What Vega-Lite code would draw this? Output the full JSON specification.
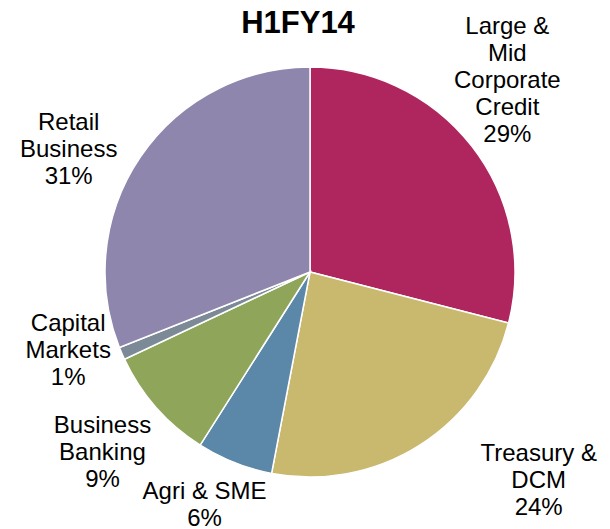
{
  "$schema": "https://vega.github.io/schema/vega-lite/v6.json",
  "autosize": {"type": "none"},
  "width": 600,
  "height": 510,
  "padding": {"left": 10, "top": 17, "right": 0, "bottom": 2},
  "background": "white",
  "title": {
    "text": "H1FY14",
    "font": "Liberation Sans",
    "fontSize": 31,
    "fontWeight": "bold",
    "color": "#000000",
    "anchor": "middle",
    "frame": "group",
    "baseline": "alphabetic",
    "offset": -21,
    "dx": -12,
    "dy": 28
  },
  "config": {"view": {"stroke": null}},
  "data": {
    "values": [
      {"rank": 1, "segment": "Large & Mid Corporate Credit", "name": "Large &\nMid\nCorporate\nCredit", "share": 29},
      {"rank": 2, "segment": "Treasury & DCM", "name": "Treasury &\nDCM", "share": 24},
      {"rank": 3, "segment": "Agri & SME", "name": "Agri & SME", "share": 6},
      {"rank": 4, "segment": "Business Banking", "name": "Business\nBanking", "share": 9},
      {"rank": 5, "segment": "Capital Markets", "name": "Capital\nMarkets", "share": 1},
      {"rank": 6, "segment": "Retail Business", "name": "Retail\nBusiness", "share": 31}
    ]
  },
  "transform": [{"calculate": "datum.name + '\\n' + datum.share + '%'", "as": "label"}],
  "encoding": {
    "theta": {"field": "share", "type": "quantitative", "stack": true},
    "order": {"field": "rank", "type": "quantitative"}
  },
  "layer": [
    {
      "mark": {"type": "arc", "outerRadius": 205, "stroke": "white", "strokeWidth": 1.5},
      "encoding": {
        "color": {
          "field": "segment",
          "type": "nominal",
          "legend": null,
          "scale": {
            "domain": ["Large & Mid Corporate Credit", "Treasury & DCM", "Agri & SME", "Business Banking", "Capital Markets", "Retail Business"],
            "range": ["#AF265F", "#C9B96E", "#5B87A9", "#8FA65A", "#7B8A96", "#8E86AC"]
          }
        }
      }
    },
    {
      "mark": {"type": "text", "radius": 270, "dx": -16, "dy": -80, "font": "Liberation Sans", "fontSize": 24, "lineHeight": 27, "lineBreak": "\n", "align": "center", "baseline": "middle", "color": "#000000"},
      "encoding": {"text": {"condition": {"test": "datum.rank === 1", "field": "label"}, "value": ""}}
    },
    {
      "mark": {"type": "text", "radius": 270, "dx": 84, "dy": -46, "font": "Liberation Sans", "fontSize": 24, "lineHeight": 27, "lineBreak": "\n", "align": "center", "baseline": "middle", "color": "#000000"},
      "encoding": {"text": {"condition": {"test": "datum.rank === 2", "field": "label"}, "value": ""}}
    },
    {
      "mark": {"type": "text", "radius": 270, "dx": -6, "dy": -31, "font": "Liberation Sans", "fontSize": 24, "lineHeight": 27, "lineBreak": "\n", "align": "center", "baseline": "middle", "color": "#000000"},
      "encoding": {"text": {"condition": {"test": "datum.rank === 3", "field": "label"}, "value": ""}}
    },
    {
      "mark": {"type": "text", "radius": 270, "dx": -5, "dy": -25, "font": "Liberation Sans", "fontSize": 24, "lineHeight": 27, "lineBreak": "\n", "align": "center", "baseline": "middle", "color": "#000000"},
      "encoding": {"text": {"condition": {"test": "datum.rank === 4", "field": "label"}, "value": ""}}
    },
    {
      "mark": {"type": "text", "radius": 270, "dx": 6, "dy": -55, "font": "Liberation Sans", "fontSize": 24, "lineHeight": 27, "lineBreak": "\n", "align": "center", "baseline": "middle", "color": "#000000"},
      "encoding": {"text": {"condition": {"test": "datum.rank === 5", "field": "label"}, "value": ""}}
    },
    {
      "mark": {"type": "text", "radius": 270, "dx": -18, "dy": 3, "font": "Liberation Sans", "fontSize": 24, "lineHeight": 27, "lineBreak": "\n", "align": "center", "baseline": "middle", "color": "#000000"},
      "encoding": {"text": {"condition": {"test": "datum.rank === 6", "field": "label"}, "value": ""}}
    }
  ]
}
